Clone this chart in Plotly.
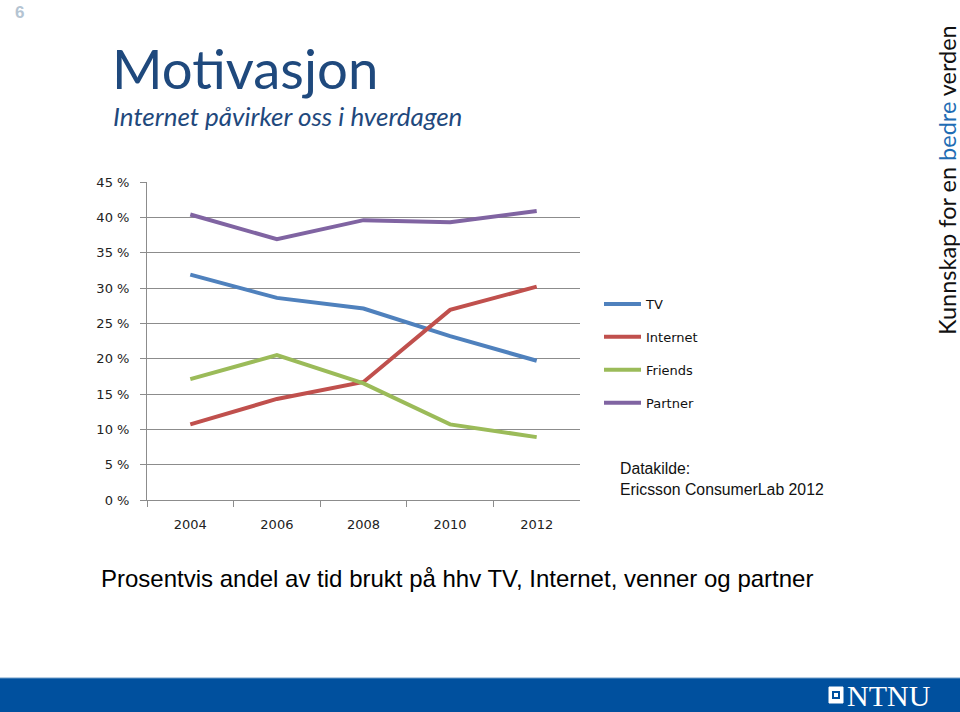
import plotly.graph_objects as go

# data
years = ["2004", "2006", "2008", "2010", "2012"]
tv = [31.9, 28.6, 27.1, 23.2, 19.7]
internet = [10.7, 14.3, 16.7, 26.9, 30.2]
friends = [17.1, 20.5, 16.5, 10.7, 8.9]
partner = [40.4, 36.9, 39.6, 39.3, 40.9]

series = [("TV", tv, "#4F81BD"),
          ("Internet", internet, "#C0504D"),
          ("Friends", friends, "#9BBB59"),
          ("Partner", partner, "#8064A2")]

W, H = 960, 712

def px(x):
    return x / W

def py(y):
    return 1 - y / H

fig = go.Figure()
for name, vals, col in series:
    fig.add_trace(go.Scatter(x=years, y=vals, name=name, mode="lines",
                             legendgroup=name,
                             line=dict(color=col, width=4)))

tickfont = dict(family="DejaVu Sans", size=13, color="#222222")
grid = "#8c8c8c"

fig.update_layout(
    width=W, height=H,
    margin=dict(l=0, r=0, t=0, b=0, autoexpand=False),
    paper_bgcolor="white", plot_bgcolor="white",
    showlegend=True,
    legend=dict(x=px(599), y=py(289), xanchor="left", yanchor="top",
                traceorder="grouped", tracegroupgap=13, itemwidth=37,
                font=dict(family="DejaVu Sans", size=13, color="#111111"),
                bgcolor="rgba(0,0,0,0)"),
    xaxis=dict(domain=[px(147), px(580)], type="category", range=[-0.5, 4.5],
               tickson="boundaries", ticks="outside", ticklen=6,
               tickcolor=grid, showline=True, linecolor=grid, linewidth=1,
               showgrid=False, tickfont=tickfont, ticklabelstandoff=12,
               automargin=False, fixedrange=True),
    yaxis=dict(domain=[py(500), py(182)], range=[0, 45], dtick=5,
               ticksuffix=" %", ticks="outside", ticklen=6, tickcolor=grid,
               showline=True, linecolor=grid, linewidth=1,
               showgrid=True, gridcolor=grid, gridwidth=1,
               zeroline=False, tickfont=tickfont, ticklabelstandoff=8,
               automargin=False, fixedrange=True),
)

# footer bar
fig.add_shape(type="rect", xref="paper", yref="paper",
              x0=0, x1=1, y0=0, y1=py(678),
              fillcolor="#00509E", line=dict(width=0), layer="below")
fig.add_shape(type="line", xref="paper", yref="paper",
              x0=0, x1=1, y0=py(678), y1=py(678),
              line=dict(color="#6f9cc8", width=1))
# NTNU icon
fig.add_shape(type="rect", xref="paper", yref="paper",
              x0=px(829), x1=px(843), y0=py(703), y1=py(687),
              fillcolor="white", line=dict(color="white", width=1))
fig.add_shape(type="rect", xref="paper", yref="paper",
              x0=px(832), x1=px(840), y0=py(699), y1=py(691),
              fillcolor="#00509E", line=dict(width=0))
fig.add_shape(type="rect", xref="paper", yref="paper",
              x0=px(834), x1=px(838), y0=py(697), y1=py(693),
              fillcolor="white", line=dict(width=0))

ann = [
    dict(text="<b>6</b>", x=px(13), y=py(12), xanchor="left", yanchor="middle",
         font=dict(family="Liberation Sans", size=17, color="#b4c4d2")),
    dict(text="Motivasjon", x=px(110), y=py(68), xanchor="left", yanchor="middle",
         font=dict(family="Lato", size=54.5, color="#1F497D")),
    dict(text="<i>Internet påvirker oss i hverdagen</i>", x=px(111), y=py(116),
         xanchor="left", yanchor="middle",
         font=dict(family="Lato", size=26, color="#1F497D")),
    dict(text="Kunnskap for en <span style='color:#1F6DB4'>bedre</span> verden",
         x=px(947), y=py(180), xanchor="center", yanchor="middle", textangle=-90,
         font=dict(family="Lato", size=23.5, color="#111111")),
    dict(text="Datakilde:<br>Ericsson ConsumerLab 2012", x=px(618), y=py(479),
         xanchor="left", yanchor="middle", align="left",
         font=dict(family="Liberation Sans", size=15.8, color="#111111")),
    dict(text="Prosentvis andel av tid brukt på hhv TV, Internet, venner og partner",
         x=px(99), y=py(578), xanchor="left", yanchor="middle",
         font=dict(family="Liberation Sans", size=24, color="#000000")),
    dict(text="NTNU", x=px(845), y=py(695), xanchor="left", yanchor="middle",
         font=dict(family="Liberation Serif", size=30, color="white")),
]
for a in ann:
    fig.add_annotation(xref="paper", yref="paper", showarrow=False, **a)

# drop the page's default body margin so the figure fills the window
fig.write_html("out.html", config=dict(displayModeBar=False),
               post_script="document.body.style.margin='0';"
                           "document.body.style.overflow='hidden';")
